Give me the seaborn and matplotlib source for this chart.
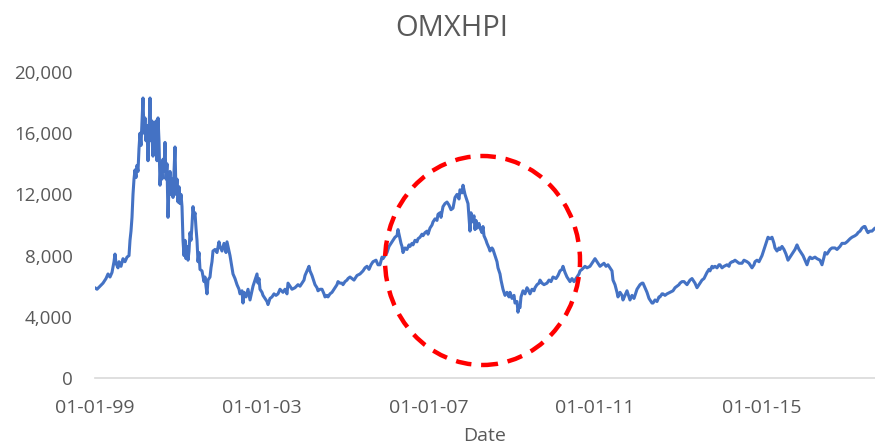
import numpy as np
import pandas as pd
import matplotlib
matplotlib.use("Agg")
import matplotlib.pyplot as plt
import matplotlib.dates as mdates
from matplotlib.patches import Ellipse
from matplotlib.ticker import FuncFormatter
import seaborn as sns

title = "OMXHPI"
x_label = "Date"
tick_dates = ["1999-01-01", "2003-01-01", "2007-01-01", "2011-01-01", "2015-01-01"]
y_ticks = [0, 4000, 8000, 12000, 16000, 20000]

# decimal years
years = [
    1999.000, 1999.048, 1999.120, 1999.192, 1999.264, 1999.312, 1999.360, 1999.408, 1999.456, 1999.480,
    1999.504, 1999.552, 1999.576, 1999.624, 1999.672, 1999.720, 1999.768, 1999.816, 1999.840, 1999.864,
    1999.888, 1999.912, 1999.936, 1999.960, 1999.984, 2000.008, 2000.032, 2000.056, 2000.080, 2000.104,
    2000.128, 2000.152, 2000.176, 2000.200, 2000.224, 2000.248, 2000.272, 2000.296, 2000.320, 2000.344,
    2000.368, 2000.392, 2000.416, 2000.440, 2000.464, 2000.488, 2000.512, 2000.536, 2000.560, 2000.584,
    2000.608, 2000.632, 2000.656, 2000.680, 2000.704, 2000.728, 2000.752, 2000.776, 2000.800, 2000.824,
    2000.848, 2000.872, 2000.896, 2000.920, 2000.944, 2000.968, 2000.992, 2001.016, 2001.040, 2001.064,
    2001.088, 2001.112, 2001.136, 2001.160, 2001.184, 2001.208, 2001.232, 2001.256, 2001.280, 2001.304,
    2001.328, 2001.352, 2001.376, 2001.400, 2001.424, 2001.448, 2001.472, 2001.496, 2001.520, 2001.568,
    2001.616, 2001.640, 2001.664, 2001.688, 2001.712, 2001.760, 2001.784, 2001.808, 2001.832, 2001.880,
    2001.928, 2001.976, 2002.000, 2002.048, 2002.096, 2002.144, 2002.168, 2002.216, 2002.240, 2002.288,
    2002.312, 2002.360, 2002.408, 2002.456, 2002.480, 2002.528, 2002.552, 2002.576, 2002.624, 2002.672,
    2002.720, 2002.768, 2002.792, 2002.840, 2002.888, 2002.912, 2002.936, 2002.960, 2003.008, 2003.032,
    2003.080, 2003.128, 2003.152, 2003.200, 2003.248, 2003.296, 2003.344, 2003.392, 2003.440, 2003.512,
    2003.560, 2003.608, 2003.632, 2003.680, 2003.728, 2003.800, 2003.872, 2003.920, 2003.968, 2004.016,
    2004.040, 2004.088, 2004.136, 2004.160, 2004.208, 2004.256, 2004.280, 2004.328, 2004.352, 2004.400,
    2004.448, 2004.496, 2004.520, 2004.568, 2004.592, 2004.640, 2004.688, 2004.736, 2004.760, 2004.808,
    2004.832, 2004.880, 2004.928, 2004.952, 2005.000, 2005.048, 2005.072, 2005.120, 2005.168, 2005.216,
    2005.288, 2005.360, 2005.432, 2005.480, 2005.528, 2005.576, 2005.624, 2005.672, 2005.744, 2005.792,
    2005.840, 2005.888, 2005.912, 2005.960, 2006.008, 2006.056, 2006.080, 2006.128, 2006.152, 2006.200,
    2006.248, 2006.272, 2006.296, 2006.320, 2006.344, 2006.368, 2006.392, 2006.440, 2006.488, 2006.536,
    2006.560, 2006.608, 2006.632, 2006.680, 2006.728, 2006.752, 2006.800, 2006.848, 2006.872, 2006.920,
    2006.968, 2006.992, 2007.040, 2007.088, 2007.112, 2007.160, 2007.208, 2007.232, 2007.280, 2007.304,
    2007.352, 2007.400, 2007.448, 2007.496, 2007.544, 2007.592, 2007.640, 2007.688, 2007.736, 2007.760,
    2007.808, 2007.832, 2007.880, 2007.904, 2007.952, 2007.976, 2008.000, 2008.024, 2008.048, 2008.096,
    2008.120, 2008.144, 2008.168, 2008.216, 2008.240, 2008.288, 2008.312, 2008.336, 2008.384, 2008.408,
    2008.456, 2008.480, 2008.528, 2008.552, 2008.600, 2008.648, 2008.672, 2008.720, 2008.744, 2008.768,
    2008.792, 2008.840, 2008.888, 2008.936, 2008.960, 2009.008, 2009.056, 2009.080, 2009.128, 2009.152,
    2009.176, 2009.200, 2009.224, 2009.272, 2009.320, 2009.368, 2009.392, 2009.440, 2009.488, 2009.536,
    2009.560, 2009.608, 2009.656, 2009.680, 2009.728, 2009.776, 2009.848, 2009.896, 2009.944, 2009.992,
    2010.064, 2010.112, 2010.160, 2010.208, 2010.232, 2010.280, 2010.328, 2010.376, 2010.400, 2010.448,
    2010.496, 2010.568, 2010.616, 2010.640, 2010.688, 2010.760, 2010.808, 2010.880, 2010.952, 2011.000,
    2011.048, 2011.096, 2011.120, 2011.168, 2011.216, 2011.264, 2011.312, 2011.360, 2011.408, 2011.432,
    2011.480, 2011.528, 2011.552, 2011.600, 2011.648, 2011.672, 2011.720, 2011.768, 2011.816, 2011.840,
    2011.888, 2011.936, 2011.984, 2012.008, 2012.056, 2012.080, 2012.128, 2012.152, 2012.200, 2012.248,
    2012.296, 2012.320, 2012.368, 2012.392, 2012.440, 2012.488, 2012.536, 2012.560, 2012.608, 2012.632,
    2012.680, 2012.728, 2012.800, 2012.872, 2012.920, 2012.968, 2013.016, 2013.040, 2013.088, 2013.136,
    2013.208, 2013.256, 2013.280, 2013.328, 2013.352, 2013.400, 2013.448, 2013.496, 2013.520, 2013.568,
    2013.616, 2013.688, 2013.736, 2013.760, 2013.808, 2013.832, 2013.880, 2013.928, 2013.976, 2014.000,
    2014.048, 2014.096, 2014.168, 2014.216, 2014.240, 2014.288, 2014.312, 2014.360, 2014.408, 2014.456,
    2014.528, 2014.576, 2014.648, 2014.696, 2014.768, 2014.816, 2014.840, 2014.888, 2014.936, 2015.008,
    2015.056, 2015.080, 2015.128, 2015.152, 2015.200, 2015.248, 2015.296, 2015.320, 2015.368, 2015.416,
    2015.440, 2015.488, 2015.536, 2015.584, 2015.632, 2015.680, 2015.728, 2015.776, 2015.800, 2015.848,
    2015.896, 2015.944, 2015.992, 2016.040, 2016.088, 2016.136, 2016.160, 2016.208, 2016.280, 2016.328,
    2016.400, 2016.448, 2016.496, 2016.520, 2016.568, 2016.640, 2016.688, 2016.760, 2016.808, 2016.880,
    2016.928, 2017.000, 2017.048, 2017.120, 2017.168, 2017.240, 2017.288, 2017.312, 2017.360, 2017.408,
    2017.456, 2017.480, 2017.528, 2017.552, 2017.600, 2017.648, 2017.720,
]

index_values = [
    5900, 5800, 6000, 6200, 6500, 6800, 6600, 6900, 7600, 8100,
    7500, 7200, 7600, 7300, 7800, 7600, 7900, 8000, 9000, 9600,
    10500, 12000, 13000, 13600, 13100, 13900, 13500, 15000, 16000, 15200,
    16800, 18300, 16000, 17000, 15500, 16500, 14200, 16000, 18300, 15500,
    16800, 14500, 16500, 15000, 16800, 14200, 17000, 15500, 12600, 14000,
    13000, 14300, 13500, 15400, 13000, 14000, 10500, 12500, 13500, 12000,
    13000, 11800, 13500, 15100, 12000, 13000, 11500, 12500, 11400, 12000,
    11200, 9000, 8000, 9000, 7800, 8600, 7700, 8300, 9500, 9000,
    10000, 11200, 10500, 10800, 9800, 9000, 7600, 8200, 7100, 7000,
    6300, 6600, 6000, 5500, 6400, 6600, 7200, 7600, 8300, 8400,
    8200, 8900, 8600, 8300, 8800, 8200, 8900, 8300, 8000, 7200,
    6800, 6500, 6100, 5800, 5500, 5700, 4900, 5600, 5300, 5800,
    5100, 5700, 6000, 6400, 6800, 6200, 6500, 5800, 5600, 5400,
    5200, 5000, 4800, 5200, 5300, 5500, 5400, 5500, 5800, 5600,
    5800, 5500, 6200, 6000, 5800, 5900, 6100, 6000, 6200, 6400,
    6700, 7000, 7300, 7000, 6700, 6300, 6100, 5900, 5700, 5800,
    5800, 5500, 5300, 5400, 5300, 5500, 5600, 5800, 5900, 6100,
    6300, 6200, 6200, 6100, 6300, 6400, 6500, 6600, 6500, 6400,
    6700, 6800, 7000, 7200, 7300, 7100, 7400, 7600, 7700, 7400,
    7400, 7900, 7800, 8000, 8200, 8600, 8700, 8900, 9000, 9200,
    9300, 9700, 9400, 9100, 8800, 8600, 8200, 8500, 8400, 8700,
    8600, 8800, 8700, 9000, 8900, 9100, 9200, 9400, 9300, 9500,
    9600, 9400, 9800, 10000, 10200, 10400, 10300, 10700, 10800, 10500,
    11200, 11400, 11500, 11300, 11000, 11100, 11800, 12000, 11700, 12300,
    12100, 12600, 12000, 11800, 11400, 10500, 9600, 10800, 10200, 10600,
    9700, 10300, 9800, 10100, 9800, 9500, 9900, 9300, 9000, 8800,
    8500, 8300, 8500, 8400, 8000, 7600, 7200, 6800, 6400, 6100,
    5800, 5400, 5600, 5300, 5600, 5200, 5400, 4900, 5000, 4300,
    4700, 4600, 5300, 5700, 5500, 5900, 5800, 5500, 5800, 5700,
    5900, 6100, 6200, 6400, 6200, 6100, 6200, 6400, 6300, 6600,
    6500, 6700, 7000, 7100, 7300, 6900, 6600, 6400, 6300, 6500,
    6300, 6600, 6800, 7000, 7100, 7300, 7200, 7300, 7600, 7800,
    7600, 7400, 7300, 7400, 7500, 7300, 7400, 7200, 7000, 6400,
    6100, 5600, 5300, 5600, 5400, 5100, 5400, 5700, 5300, 5100,
    5400, 5200, 5600, 5800, 6000, 6100, 6200, 6200, 5900, 5600,
    5200, 5100, 4900, 4900, 5100, 5000, 5300, 5300, 5500, 5500,
    5400, 5500, 5600, 5700, 5900, 6000, 6100, 6200, 6300, 6300,
    6100, 6300, 6400, 6500, 6400, 6200, 5900, 6100, 6200, 6400,
    6500, 6900, 7100, 7000, 7300, 7200, 7300, 7200, 7400, 7400,
    7200, 7300, 7400, 7300, 7500, 7600, 7600, 7700, 7600, 7500,
    7500, 7700, 7600, 7500, 7200, 7400, 7600, 7700, 7600, 8000,
    8400, 8600, 9000, 9200, 9100, 9200, 8800, 8500, 8300, 8500,
    8400, 8600, 8400, 8100, 7700, 7900, 8100, 8300, 8400, 8700,
    8400, 8200, 8000, 7700, 7400, 7800, 7900, 7800, 7900, 7800,
    7700, 7400, 7900, 8200, 8100, 8400, 8500, 8500, 8400, 8600,
    8800, 8800, 8900, 9100, 9200, 9300, 9400, 9500, 9600, 9800,
    9900, 9900, 9600, 9500, 9600, 9600, 9800,
]

# annotation ellipse (data units)
circle_center = ("2008-04-20", 7680)
circle_width_days = 1709
circle_height = 13660

def to_dates(yrs):
    base = pd.Timestamp("1999-01-01")
    return [base + pd.to_timedelta((y - 1999.0) * 365.25, unit="D") for y in yrs]

df = pd.DataFrame({"Date": to_dates(years), "Value": index_values})

sns.set_style("white")
plt.rcParams["font.family"] = ["Open Sans", "DejaVu Sans"]

grey = "#595959"
fig = plt.figure(figsize=(8.75, 4.48), dpi=100)
ax = fig.add_axes([95 / 875, 70 / 448, 780 / 875, 306 / 448])

sns.lineplot(data=df, x="Date", y="Value", ax=ax, color="#4472C4", linewidth=2.2)

ax.set_ylim(0, 20000)
ax.set_xlim(pd.Timestamp("1999-01-01"), df["Date"].iloc[-1])
ax.set_yticks(y_ticks)
ax.yaxis.set_major_formatter(FuncFormatter(lambda v, p: f"{int(v):,}"))
ax.set_xticks([pd.Timestamp(d) for d in tick_dates])
ax.xaxis.set_major_formatter(mdates.DateFormatter("%d-%m-%y"))

for s in ["left", "top", "right"]:
    ax.spines[s].set_visible(False)
ax.spines["bottom"].set_color("#D9D9D9")
ax.spines["bottom"].set_linewidth(1.2)

ax.tick_params(axis="y", length=0, pad=16, labelsize=13.5, labelcolor=grey)
ax.tick_params(axis="x", length=5, width=1.2, color="#D9D9D9", pad=10,
               labelsize=14, labelcolor=grey, direction="out")
ax.grid(False)

ax.set_xlabel(x_label, fontsize=14, color=grey, labelpad=7)
ax.set_ylabel("")
fig.suptitle(title, x=452 / 875, y=1 - 28 / 448, va="center", fontsize=21, color=grey)

cx = mdates.date2num(pd.Timestamp(circle_center[0]))
ell = Ellipse((cx, circle_center[1]), width=circle_width_days, height=circle_height,
              fill=False, edgecolor="#FF0000", linewidth=3.2, linestyle=(0, (3.5, 2.2)),
              zorder=5, clip_on=False)
ax.add_patch(ell)

fig.savefig("out.png", dpi=100)
